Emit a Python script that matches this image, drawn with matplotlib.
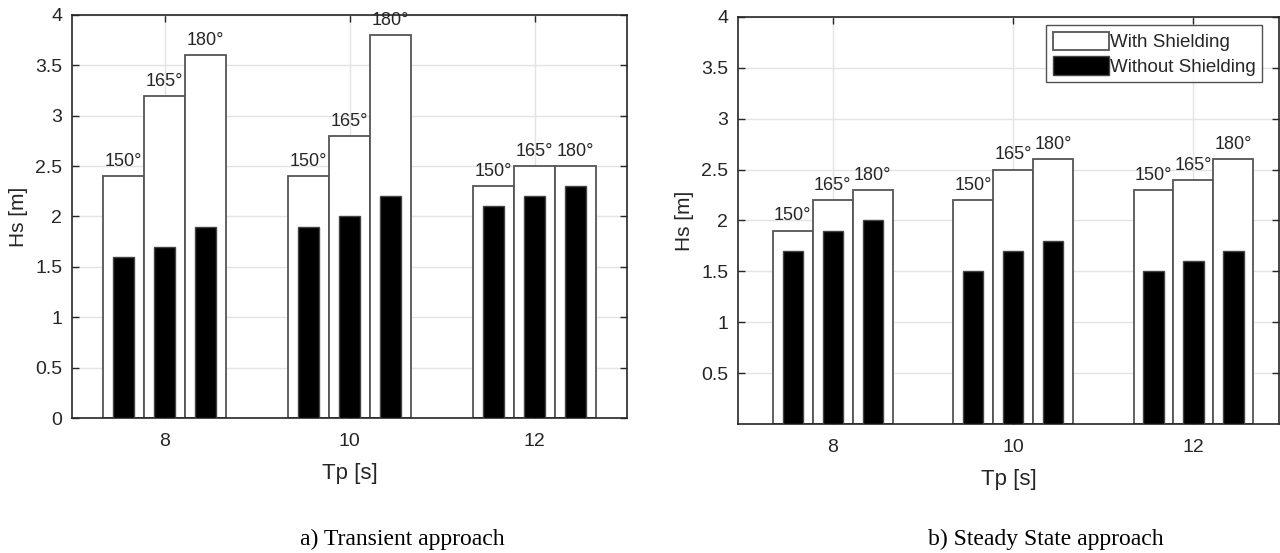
import matplotlib
matplotlib.use("Agg")
from matplotlib import pyplot as plt
from matplotlib import font_manager
from matplotlib.patches import Patch

# ---- data ----
tp = [8, 10, 12]
angles = ['150°', '165°', '180°']

trans_with = [[2.4, 3.2, 3.6], [2.4, 2.8, 3.8], [2.3, 2.5, 2.5]]
trans_without = [[1.6, 1.7, 1.9], [1.9, 2.0, 2.2], [2.1, 2.2, 2.3]]

steady_with = [[1.9, 2.2, 2.3], [2.2, 2.5, 2.6], [2.3, 2.4, 2.6]]
steady_without = [[1.7, 1.9, 2.0], [1.5, 1.7, 1.8], [1.5, 1.6, 1.7]]

names = {f.name for f in font_manager.fontManager.ttflist}
sans = 'Liberation Sans Narrow' if 'Liberation Sans Narrow' in names else 'Liberation Sans'
plt.rcParams['font.family'] = [sans, 'DejaVu Sans']

txt_color = '#262626'
edge_gray = '#555555'
bar_w = 0.443
small_w = 0.225


def plot_panel(ax, with_sh, without_sh, yticks, xlim):
    for g, t in enumerate(tp):
        for k in range(3):
            xc = t + (k - 1) * bar_w
            ax.bar(xc, with_sh[g][k], width=bar_w, color='white', edgecolor=edge_gray,
                   linewidth=1.3, zorder=2)
            ax.bar(xc, without_sh[g][k], width=small_w, color='black', edgecolor='#444444',
                   linewidth=1.0, zorder=3)
            ax.text(xc, with_sh[g][k] + 0.1, angles[k], ha='center', va='baseline',
                    fontsize=13, color=txt_color, zorder=4)
    ax.set_xlim(*xlim)
    ax.set_ylim(0, 4)
    ax.set_xticks(tp)
    ax.set_yticks(yticks)
    ax.set_yticklabels([f'{v:g}' for v in yticks])
    ax.grid(True, color='#e3e3e3', linewidth=1.0, zorder=0)
    ax.set_axisbelow(True)
    ax.tick_params(direction='in', top=True, right=True, length=5, width=1,
                   labelsize=14, colors=txt_color)
    ax.tick_params(axis='x', pad=11)
    ax.tick_params(axis='y', pad=7)
    for s in ax.spines.values():
        s.set_color('#262626')
        s.set_linewidth(1.2)
    ax.set_xlabel('Tp [s]', fontsize=16, color=txt_color, labelpad=9)
    ax.set_ylabel('Hs [m]', fontsize=15, color=txt_color, labelpad=5)


fig = plt.figure(figsize=(12.8, 5.53), dpi=100)
ax1 = fig.add_axes([0.05625, 0.2441, 0.4336, 0.7288])
ax2 = fig.add_axes([0.5766, 0.2333, 0.4227, 0.736])

plot_panel(ax1, trans_with, trans_without, [0, 0.5, 1, 1.5, 2, 2.5, 3, 3.5, 4], (7.0, 13.0))
plot_panel(ax2, steady_with, steady_without, [0.5, 1, 1.5, 2, 2.5, 3, 3.5, 4], (6.95, 12.95))

handles = [Patch(facecolor='white', edgecolor=edge_gray, linewidth=1.3, label='With Shielding'),
           Patch(facecolor='black', edgecolor='#444444', label='Without Shielding')]
leg = ax2.legend(handles=handles, loc='upper right',
                 bbox_to_anchor=(1262 / 1280, 1 - 25 / 553), bbox_transform=fig.transFigure,
                 borderaxespad=0, fontsize=13.5, frameon=True, fancybox=False,
                 handlelength=3.0, handleheight=1.15, handletextpad=0.05,
                 borderpad=0.35, labelspacing=0.25)
leg.get_frame().set_edgecolor('#262626')
leg.get_frame().set_linewidth(1.0)
for t in leg.get_texts():
    t.set_color(txt_color)

serif = ['Liberation Serif', 'DejaVu Serif']
fig.text(402 / 1280, 1 - 545 / 553, 'a) Transient approach', ha='center', va='baseline',
         fontsize=17, family=serif, color='black')
fig.text(1046 / 1280, 1 - 545 / 553, 'b) Steady State approach', ha='center', va='baseline',
         fontsize=17, family=serif, color='black')

fig.savefig('out.png', dpi=100)
